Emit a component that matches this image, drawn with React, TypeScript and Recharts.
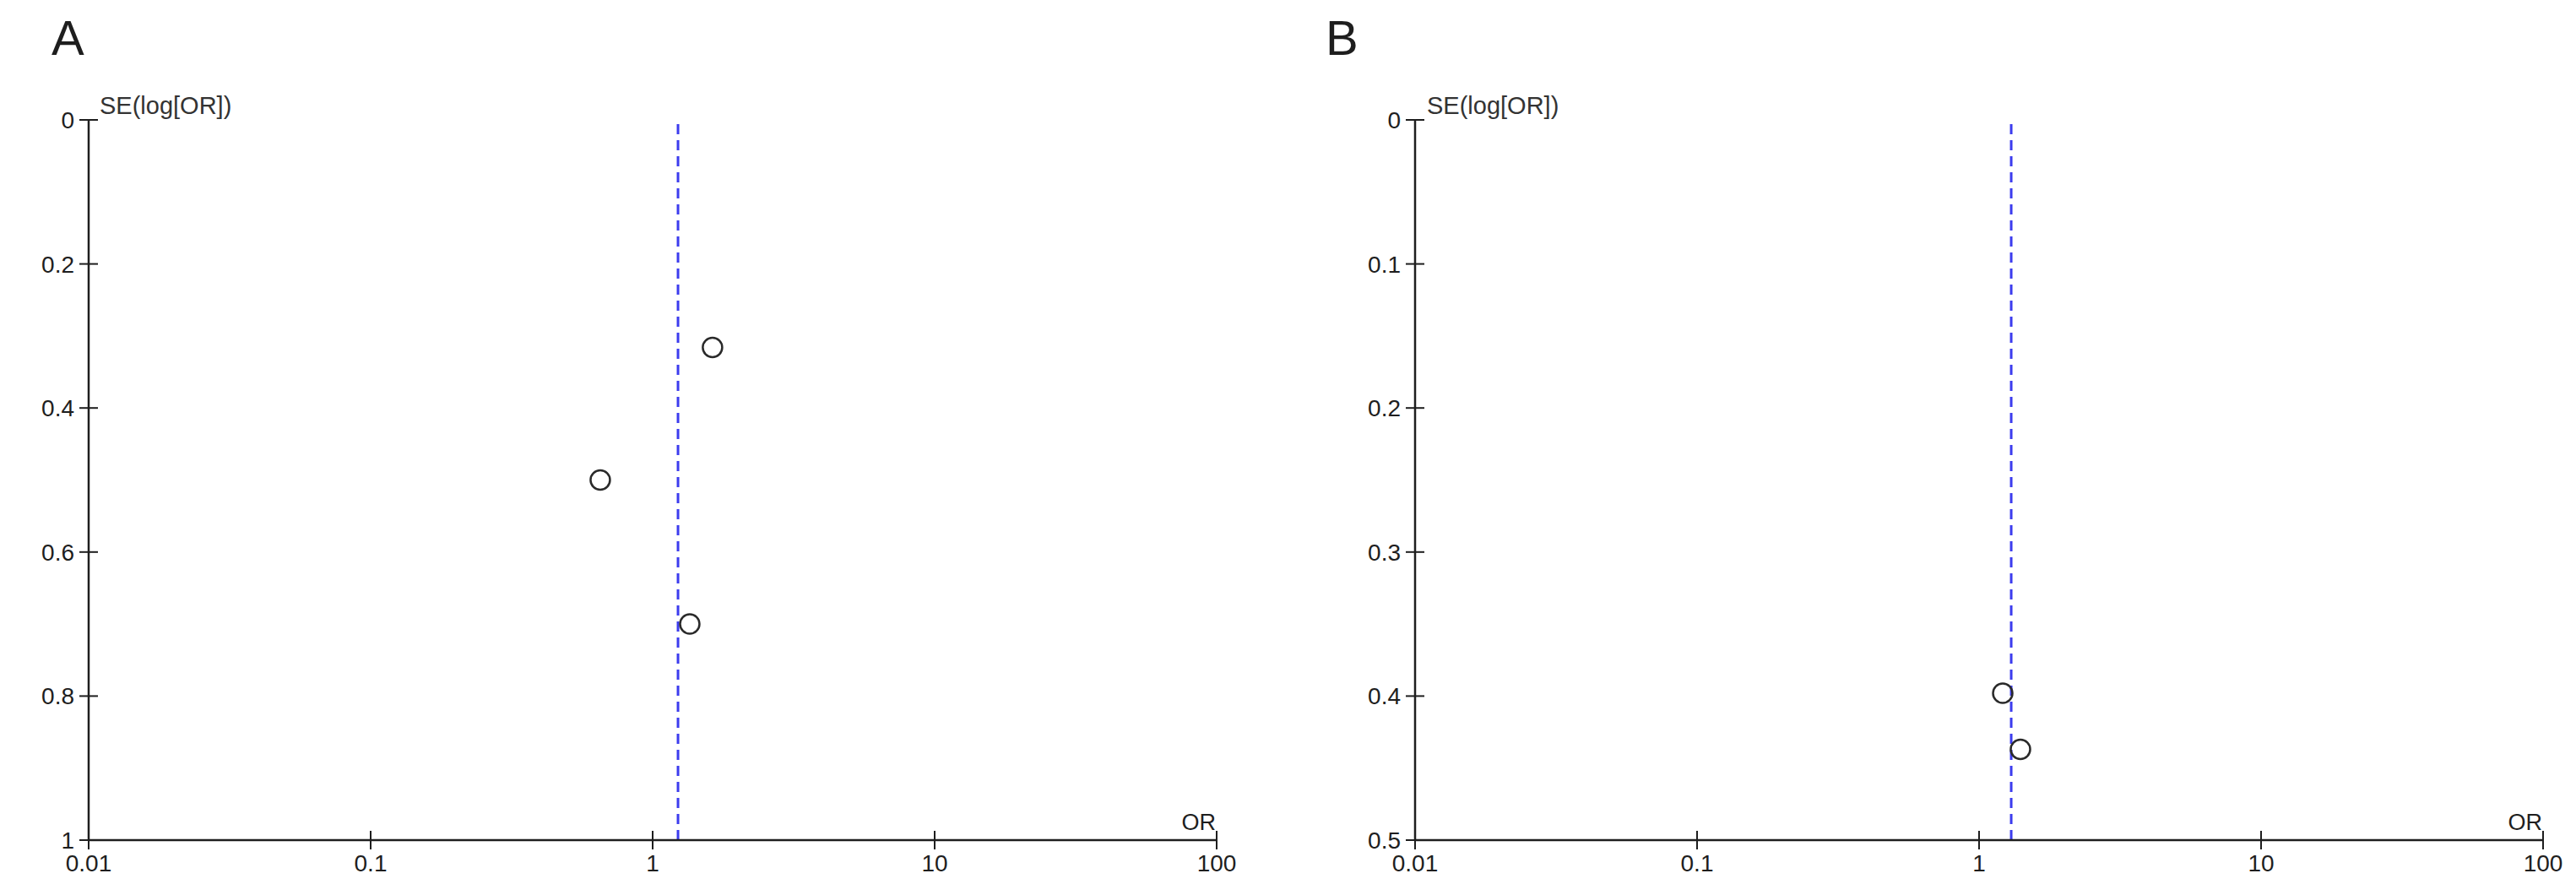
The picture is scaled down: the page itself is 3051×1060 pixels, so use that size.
import React from 'react';
import { ScatterChart, Scatter, XAxis, YAxis, ReferenceLine } from 'recharts';

// funnel plot values
const orA = [1.63, 0.652, 1.354];
const seA = [0.316, 0.5, 0.7];
const pooledA = 1.23;

const orB = [1.213, 1.402];
const seB = [0.398, 0.437];
const pooledB = 1.3;

const xTicks = [0.01, 0.1, 1, 10, 100];
const yTicksA = [0, 0.2, 0.4, 0.6, 0.8, 1];
const yTicksB = [0, 0.1, 0.2, 0.3, 0.4, 0.5];

const FONT = '"Liberation Sans", Arial, sans-serif';
const INK = '#1e1e1e';
const DASH = '#3c3cee';

const XTick = (props: any) => {
  const { x, y, payload } = props;
  return (
    <g>
      <line x1={x} x2={x} y1={y - 11} y2={y + 11} stroke={INK} strokeWidth={2} />
      <text x={x} y={y + 37} textAnchor="middle" fontSize={28} fill={INK} fontFamily={FONT}>
        {String(payload.value)}
      </text>
    </g>
  );
};

const YTick = (props: any) => {
  const { x, y, payload } = props;
  return (
    <g>
      <line x1={x - 11} x2={x + 11} y1={y} y2={y} stroke={INK} strokeWidth={2} />
      <text x={x - 17} y={y + 10} textAnchor="end" fontSize={28} fill={INK} fontFamily={FONT}>
        {String(payload.value)}
      </text>
    </g>
  );
};

const Ring = (props: any) => (
  <circle cx={props.cx} cy={props.cy} r={11.5} fill="none" stroke="#2a2a2a" strokeWidth={2.5} />
);

interface FunnelProps {
  data: { or: number; se: number }[];
  pooled: number;
  yTicks: number[];
  left: number;
  width: number;
  marginLeft: number;
  marginRight: number;
}

const Funnel: React.FC<FunnelProps> = ({ data, pooled, yTicks, left, width, marginLeft, marginRight }) => (
  <div style={{ position: 'absolute', left, top: 0 }}>
    <ScatterChart
      width={width}
      height={1060}
      margin={{ top: 142, right: marginRight, bottom: 64, left: marginLeft - 1 }}
    >
      <XAxis
        type="number"
        dataKey="or"
        scale="log"
        domain={[0.01, 100]}
        ticks={xTicks}
        interval={0}
        height={1}
        tickSize={0}
        tickMargin={0}
        tickLine={false}
        tick={<XTick />}
        axisLine={{ stroke: INK, strokeWidth: 2.5 }}
        allowDataOverflow
      />
      <YAxis
        type="number"
        dataKey="se"
        domain={[yTicks[0], yTicks[yTicks.length - 1]]}
        ticks={yTicks}
        interval={0}
        reversed
        width={1}
        tickSize={0}
        tickMargin={0}
        tickLine={false}
        tick={<YTick />}
        axisLine={{ stroke: INK, strokeWidth: 2.5 }}
        allowDataOverflow
      />
      <ReferenceLine x={pooled} stroke={DASH} strokeWidth={3} strokeDasharray="12 7" />
      <Scatter data={data} shape={<Ring />} isAnimationActive={false} />
    </ScatterChart>
  </div>
);

export default function App() {
  const dataA = orA.map((or, i) => ({ or, se: seA[i] }));
  const dataB = orB.map((or, i) => ({ or, se: seB[i] }));

  return (
    <div style={{ position: 'absolute', left: 0, top: 0, width: 3051, height: 1060, background: '#fff' }}>
      <Funnel data={dataA} pooled={pooledA} yTicks={yTicksA} left={0} width={1520} marginLeft={105} marginRight={79} />
      <Funnel data={dataB} pooled={pooledB} yTicks={yTicksB} left={1530} width={1521} marginLeft={146} marginRight={39} />
      <svg width={3051} height={1060} style={{ position: 'absolute', left: 0, top: 0, pointerEvents: 'none' }}>
        <g fontFamily={FONT} fill={INK}>
          <text x={61} y={65} fontSize={58}>A</text>
          <text x={1570} y={65} fontSize={58}>B</text>
          <text x={118} y={135} fontSize={29} fill="#333">SE(log[OR])</text>
          <text x={1690} y={135} fontSize={29} fill="#333">SE(log[OR])</text>
          <text x={1440} y={983} fontSize={27} textAnchor="end">OR</text>
          <text x={3011} y={983} fontSize={27} textAnchor="end">OR</text>
        </g>
      </svg>
    </div>
  );
}
